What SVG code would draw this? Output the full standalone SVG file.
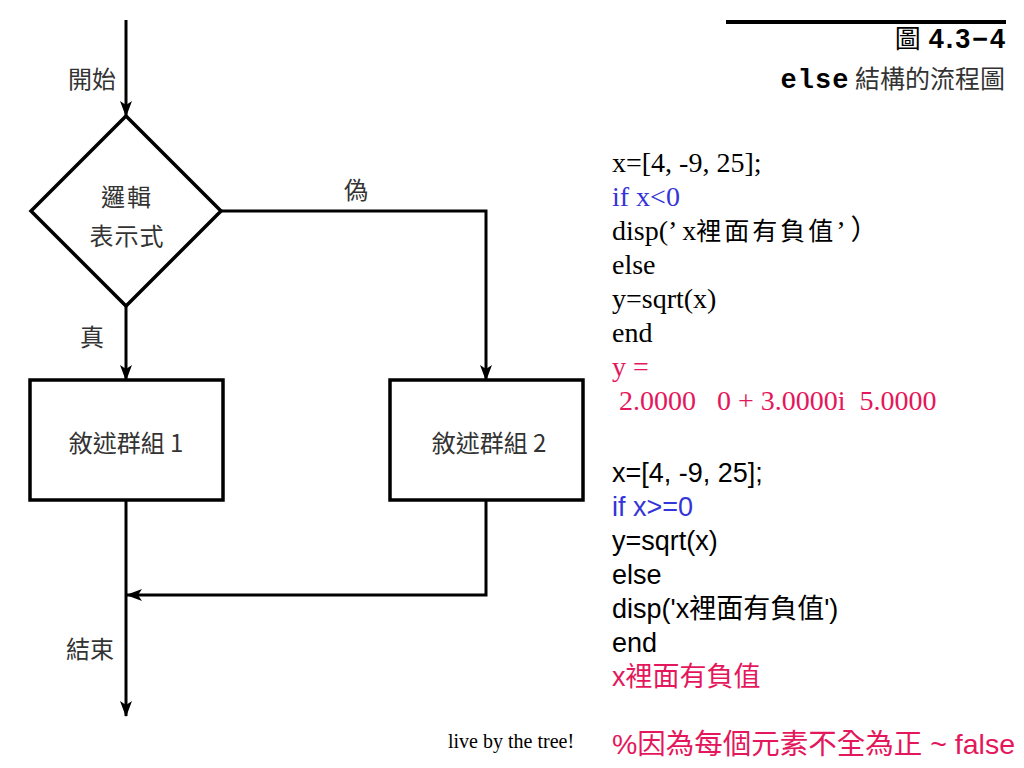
<svg xmlns="http://www.w3.org/2000/svg" width="1024" height="768" viewBox="0 0 1024 768">
<style>
.lbl{font-family:"Noto Sans CJK TC","Liberation Sans",sans-serif;font-size:24px;fill:#333;}
.ser{font-family:"Liberation Serif","Noto Sans CJK TC",serif;font-size:28px;fill:#000;}
.san{font-family:"Liberation Sans","Noto Sans CJK TC",sans-serif;font-size:27px;fill:#000;}
.blue{fill:#3434d8;}
.pink{fill:#e4175c;}
.ln{fill:none;stroke:#000;stroke-width:3;}
.shape{fill:#fff;stroke:#000;stroke-width:3.5;}
</style>
<defs>
<marker id="ah" markerWidth="16" markerHeight="12" refX="15" refY="6" orient="auto" markerUnits="userSpaceOnUse">
<path d="M0,0 L16,6 L0,12 L4,6 z" fill="#000"/>
</marker>
</defs>
<rect width="1024" height="768" fill="#fff"/>

<g id="title">
<line x1="726" y1="22" x2="1006" y2="22" stroke="#000" stroke-width="4"/>
<text x="1005" y="48" text-anchor="end" font-family="'Liberation Sans','Noto Sans CJK TC',sans-serif" font-size="27" font-weight="bold" fill="#000"><tspan font-family="'Noto Sans CJK TC',sans-serif" font-weight="normal" font-size="26">圖</tspan><tspan dx="8" letter-spacing="2">4.3−</tspan>4</text>
<text x="1005" y="88" text-anchor="end" font-family="'Noto Sans CJK TC',sans-serif" font-size="25" fill="#333"><tspan font-family="'Liberation Mono',monospace" font-weight="bold" font-size="27" letter-spacing="1" fill="#000">else</tspan> 結構的流程圖</text>
</g>

<g id="connectors">
<line class="ln" x1="126" y1="20" x2="126" y2="116" marker-end="url(#ah)"/>
<line class="ln" x1="126" y1="306" x2="126" y2="380" marker-end="url(#ah)"/>
<polyline class="ln" points="221,211 486,211 486,380" marker-end="url(#ah)"/>
<polyline class="ln" points="486,500 486,595 127,595" marker-end="url(#ah)"/>
<line class="ln" x1="126" y1="500" x2="126" y2="716" marker-end="url(#ah)"/>
</g>

<g id="start-label"><text class="lbl" x="68" y="88">開始</text></g>

<g id="decision">
<polygon class="shape" points="126,116 221,211 126,306 31,211" stroke-width="3"/>
<text class="lbl" x="127" y="206" text-anchor="middle" letter-spacing="2">邏輯</text>
<text class="lbl" x="127" y="245" text-anchor="middle" letter-spacing="1">表示式</text>
</g>

<g id="false-label"><text class="lbl" x="356" y="199" text-anchor="middle">偽</text></g>
<g id="true-label"><text class="lbl" x="80" y="346">真</text></g>

<g id="box1">
<rect class="shape" x="30" y="380" width="193" height="120"/>
<text class="lbl" x="126" y="452" text-anchor="middle">敘述群組 1</text>
</g>

<g id="box2">
<rect class="shape" x="390" y="380" width="193" height="120"/>
<text class="lbl" x="489" y="452" text-anchor="middle">敘述群組 2</text>
</g>

<g id="end-label"><text class="lbl" x="66" y="658">結束</text></g>

<g id="code1">
<text class="ser" x="612" y="172">x=[4, -9, 25];</text>
<text class="ser blue" x="612" y="206">if x&lt;0</text>
<text class="ser" x="612" y="240">disp(’ x<tspan font-family="'Noto Sans CJK TC',serif" font-size="25" letter-spacing="3">裡面有負值</tspan>’ ）</text>
<text class="ser" x="612" y="274">else</text>
<text class="ser" x="612" y="308">y=sqrt(x)</text>
<text class="ser" x="612" y="342">end</text>
<text class="ser pink" x="612" y="376">y =</text>
<text class="ser pink" x="612" y="410" xml:space="preserve"> 2.0000   0 + 3.0000i  5.0000</text>
</g>

<g id="code2">
<text class="san" x="612" y="482">x=[4, -9, 25];</text>
<text class="san blue" x="612" y="516">if x&gt;=0</text>
<text class="san" x="612" y="550">y=sqrt(x)</text>
<text class="san" x="612" y="584">else</text>
<text class="san" x="612" y="618">disp('x裡面有負值')</text>
<text class="san" x="612" y="652">end</text>
<text class="san pink" x="612" y="686">x裡面有負值</text>
<text class="san pink" x="612" y="754" style="font-size:28.5px">%因為每個元素不全為正 ~ false</text>
</g>

<g id="footer"><text x="448" y="748" font-family="'Liberation Serif',serif" font-size="20" fill="#000">live by the tree!</text></g>
</svg>
